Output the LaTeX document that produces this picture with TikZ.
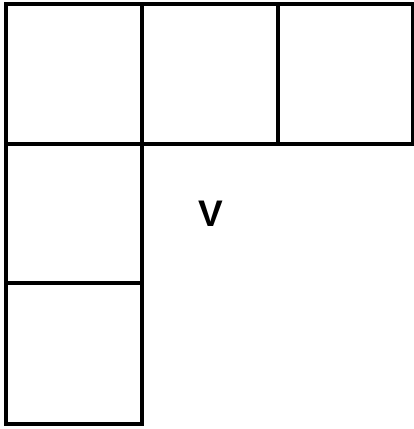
\documentclass[tikz,border=0pt]{standalone}
\usepackage{fontspec}
\setmainfont{Liberation Sans}
\begin{document}
\begin{tikzpicture}[x=1pt,y=-1pt,
  cell/.style={draw=black,line width=4pt,rectangle,inner sep=0pt,outer sep=0pt},
  lbl/.style={inner sep=0pt,font=\bfseries\fontsize{37pt}{42pt}\selectfont}]
\useasboundingbox[fill=white] (0,0) rectangle (414,429);
\node[cell,minimum width=136.5pt,minimum height=140pt] (a1) at (73.75,74) {};
\node[cell,minimum width=136pt,minimum height=140pt] (a2) at (210,74) {};
\node[cell,minimum width=135pt,minimum height=140pt] (a3) at (345.5,74) {};
\node[cell,minimum width=136.5pt,minimum height=139pt] (b1) at (73.75,213.5) {};
\node[cell,minimum width=136.5pt,minimum height=141pt] (c1) at (73.75,353.5) {};
\node[lbl,anchor=base] (v) at (210.5,226) {V};
\end{tikzpicture}
\end{document}
